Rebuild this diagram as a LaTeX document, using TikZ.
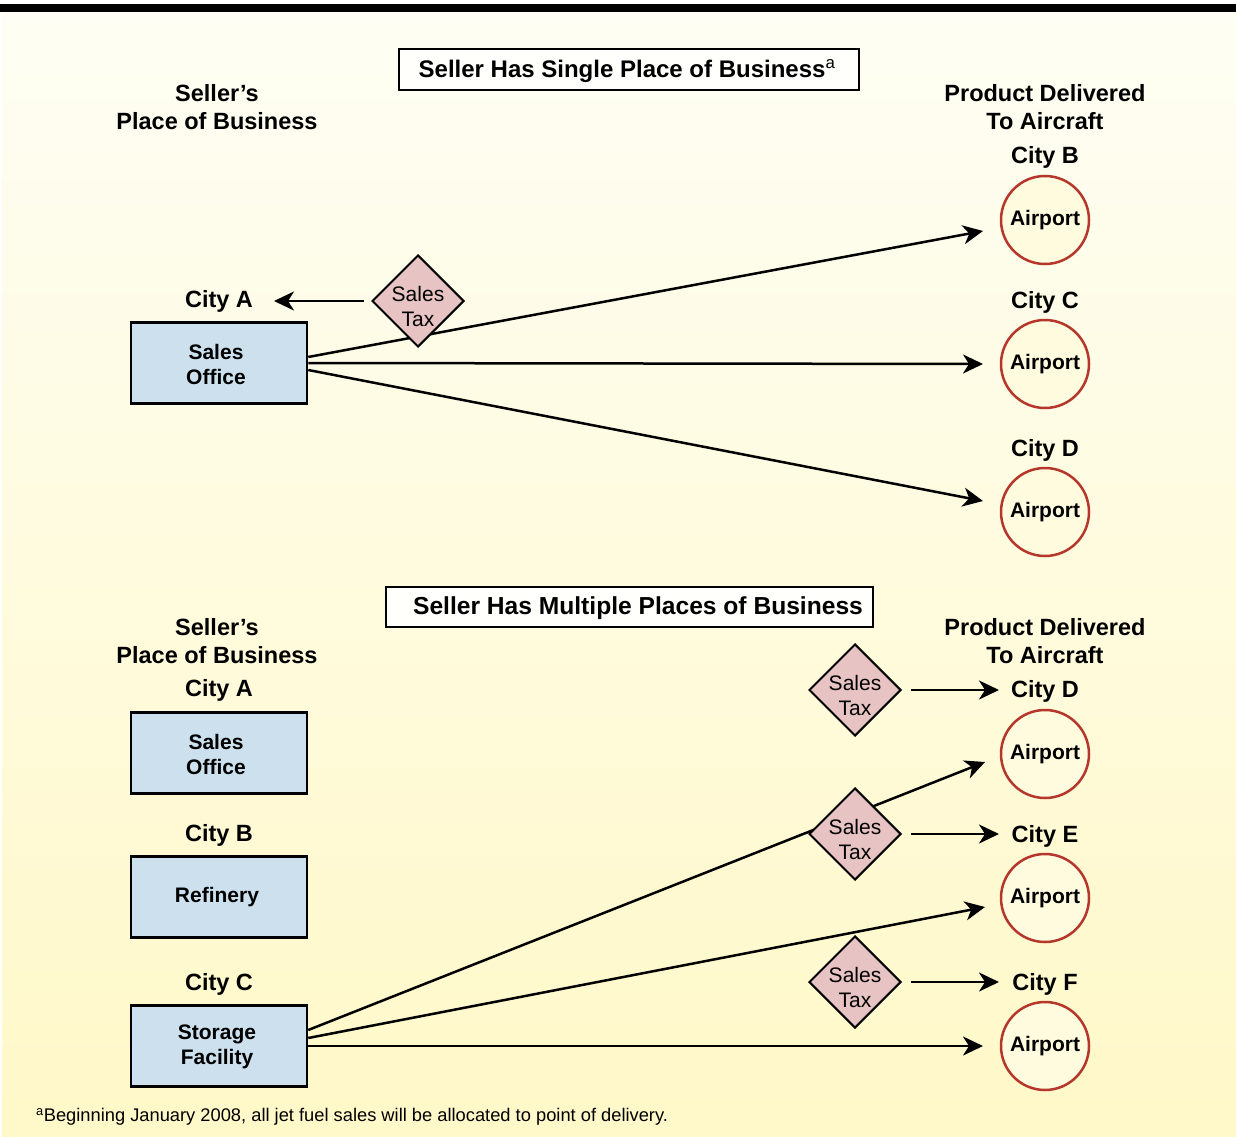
\documentclass[tikz,border=0pt]{standalone}
\usepackage{fontspec}
\setmainfont{Liberation Sans}
\usetikzlibrary{shapes.geometric,arrows.meta}
\definecolor{boxblue}{HTML}{CCE0EE}
\definecolor{taxpink}{HTML}{E8C3C3}
\definecolor{aptred}{HTML}{B5362B}
\definecolor{bgtop}{HTML}{FEFEF4}
\definecolor{bgbot}{HTML}{FFF8C8}
\tikzset{
  lbl/.style={font=\fontsize{23.5}{28}\selectfont\bfseries, align=center, inner sep=0pt},
  titlebox/.style={draw, line width=2pt, fill=white!60!bgtop, inner sep=0pt},
  titletext/.style={font=\fontsize{24}{28}\selectfont\bfseries, inner sep=0pt},
  bluebox/.style={draw, line width=2.5pt, fill=boxblue, minimum width=176pt, minimum height=81pt, inner sep=0pt},
  boxtext/.style={font=\fontsize{21}{25}\selectfont\bfseries, align=center, inner sep=0pt},
  taxshape/.style={diamond, aspect=1, draw, fill=taxpink, line width=2pt, minimum width=92pt, minimum height=92pt, inner sep=0pt},
  taxtext/.style={font=\fontsize{21}{25}\selectfont, align=center, inner sep=0pt},
  apt/.style={circle, draw=aptred, line width=2.5pt, fill=bgtop!50!bgbot, minimum size=88pt, inner sep=0pt, font=\fontsize{21}{24}\selectfont\bfseries},
  arr/.style={line width=2.5pt, -{Stealth[length=20pt,width=19pt,inset=6pt]}},
}
\begin{document}
\begin{tikzpicture}[x=1pt,y=-1pt]
\useasboundingbox (0,0) rectangle (1236,1137);
\fill[white] (0,0) rectangle (1236,1137);
\shade[top color=bgtop, bottom color=bgbot] (2,12) rectangle (1236,1137);
\fill[black] (0,4) rectangle (1236,12);

% ---------- top section ----------
\node[titlebox, minimum width=460pt, minimum height=41pt] (t1) at (629,70) {};
\node[titletext] (t1t) at (627,71) {Seller Has Single Place of Business\textsuperscript{\mdseries a}};
\node[lbl] (sp1) at (217,107) {Seller’s\\Place of Business};
\node[lbl] (pd1) at (1045,107) {Product Delivered\\To Aircraft};

\node[lbl] (cA1) at (219,301) {City A};
\node[bluebox] (so1) at (219,363) {};
\node[boxtext] (so1t) at (216,364) {Sales\\Office};

\node[lbl] (cB1) at (1045,157) {City B};
\node[apt] (aB) at (1045,220) {Airport};
\node[lbl] (cC1) at (1045,302) {City C};
\node[apt] (aC) at (1045,364) {Airport};
\node[lbl] (cD1) at (1045,450) {City D};
\node[apt] (aD) at (1045,512) {Airport};

\coordinate (eB) at (983,231);
\coordinate (eC) at (983,364);
\coordinate (eD) at (983,501);
\draw[arr] ([yshift=6pt]so1.east) -- (eB);
\draw[arr] (so1.east) -- (eC);
\draw[arr] ([yshift=-7pt]so1.east) -- (eD);

\node[taxshape] (tx1) at (418,301) {};
\node[taxtext] (tx1t) at (418,306) {Sales\\Tax};
\coordinate (la0) at (364,301);
\coordinate (la1) at (274,301);
\draw[arr] (la0) -- (la1);

% ---------- bottom section ----------
\node[titlebox, minimum width=487pt, minimum height=40pt] (t2) at (629,607) {};
\node[titletext, font=\fontsize{24.6}{28}\selectfont\bfseries] (t2t) at (638,608) {Seller Has Multiple Places of Business};
\node[lbl] (sp2) at (217,641) {Seller’s\\Place of Business};
\node[lbl] (pd2) at (1045,641) {Product Delivered\\To Aircraft};

\node[lbl] (cA2) at (219,690) {City A};
\node[bluebox] (so2) at (219,753) {};
\node[boxtext] (so2t) at (216,754) {Sales\\Office};
\node[lbl] (cB2) at (219,835) {City B};
\node[bluebox] (rf) at (219,897) {};
\node[boxtext] (rft) at (217,897) {Refinery};
\node[lbl] (cC2) at (219,984) {City C};
\node[bluebox] (sf) at (219,1046) {};
\node[boxtext] (sft) at (217,1047) {Storage\\Facility};

\node[lbl] (cD2) at (1045,691) {City D};
\node[apt] (aD2) at (1045,754) {Airport};
\node[lbl] (cE2) at (1045,836) {City E};
\node[apt] (aE2) at (1045,898) {Airport};
\node[lbl] (cF2) at (1045,984) {City F};
\node[apt] (aF2) at (1045,1046) {Airport};

\coordinate (eD2) at (985,762);
\coordinate (eE2) at (985,907);
\coordinate (eF2) at (983,1046);
\draw[arr] ([yshift=16pt]sf.east) -- (eD2);
\draw[arr] ([yshift=8pt]sf.east) -- (eE2);
\draw[arr] (sf.east) -- (eF2);

\node[taxshape] (tx2) at (855,690) {};
\node[taxtext] (tx2t) at (855,695) {Sales\\Tax};
\node[taxshape] (tx3) at (855,834) {};
\node[taxtext] (tx3t) at (855,839) {Sales\\Tax};
\node[taxshape] (tx4) at (855,982) {};
\node[taxtext] (tx4t) at (855,987) {Sales\\Tax};

\coordinate (d2a) at (911,690); \coordinate (d2b) at (999,690);
\coordinate (d3a) at (911,834); \coordinate (d3b) at (999,834);
\coordinate (d4a) at (911,982); \coordinate (d4b) at (999,982);
\draw[arr] (d2a) -- (d2b);
\draw[arr] (d3a) -- (d3b);
\draw[arr] (d4a) -- (d4b);

\node[anchor=west, inner sep=0pt, font=\fontsize{18.3}{21}\selectfont] (fn) at (36,1117) {\textsuperscript{a}Beginning January 2008, all jet fuel sales will be allocated to point of delivery.};
\end{tikzpicture}
\end{document}
